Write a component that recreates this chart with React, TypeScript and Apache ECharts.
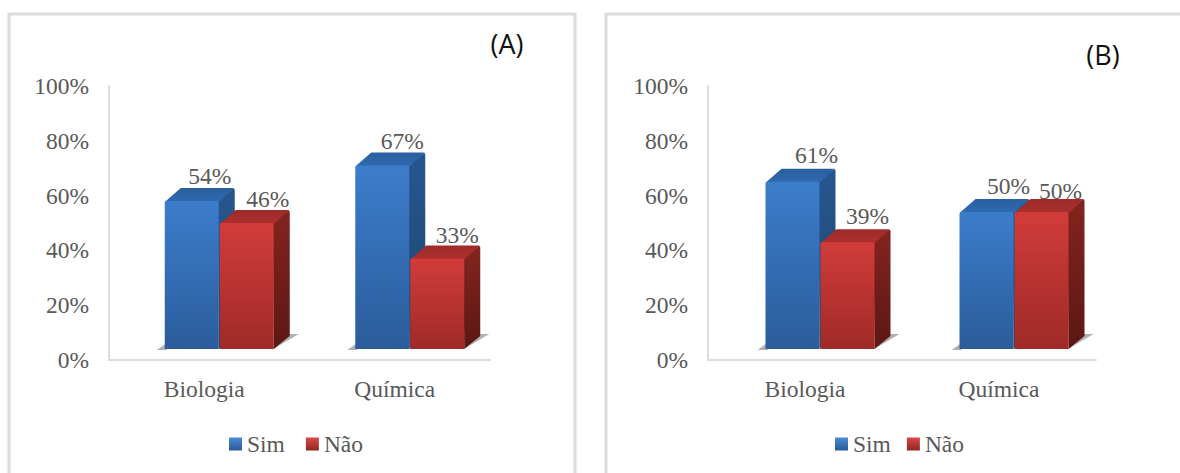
import React, { useEffect, useRef } from "react";
import * as echarts from "echarts";

const categories = ["Biologia", "Química"];
const yTicksMax = 100;
const seriesNames = ["Sim", "Não"];
const simA = [54, 67];
const naoA = [46, 33];
const simB = [61, 50];
const naoB = [39, 50];

const SERIF = "'Liberation Serif', serif";
const TXT = "#595959";
const FS = 23.5;
const BAR_W = 54;
const DX = 16;
const DY = 13;
const FRONT_SHIFT = -11; // bars stand in front of the axis plane

const grad = (a: string, b: string) =>
  new echarts.graphic.LinearGradient(0, 0, 0, 1, [
    { offset: 0, color: a },
    { offset: 1, color: b },
  ]);

const palette = [
  {
    front: () => grad("#3c7dcb", "#2b5c9b"),
    top: () => grad("#2a5f9f", "#2f6ab0"),
    side: () => grad("#27568f", "#1e4570"),
    legend: () => grad("#4a8ad8", "#2a5a98"),
  },
  {
    front: () => grad("#d13c3a", "#9f2a27"),
    top: () => grad("#9c2b29", "#ad302d"),
    side: () => grad("#84241f", "#5c1714"),
    legend: () => grad("#d94a48", "#8f2523"),
  },
];

// pixel nudges of the data labels relative to the bar's front-top corner
const labelNudges: Record<string, number[][]> = {
  A0: [[45, -25], [47, -24]],
  A1: [[48, -24], [47, -24]],
  B0: [[51, -27], [49, -26]],
  B1: [[47, -26], [46, -21]],
};

function barSeries(panel: string, axisIndex: number, sIdx: number, values: number[]) {
  const colors = palette[sIdx];
  const xOff = sIdx === 0 ? -39.5 : 15.5;
  return {
    type: "custom",
    name: seriesNames[sIdx],
    xAxisIndex: axisIndex,
    yAxisIndex: axisIndex,
    clip: false,
    itemStyle: { color: colors.legend() },
    encode: { x: 0, y: 1 },
    data: values.map((v, i) => [i, v]),
    renderItem: (params: any, api: any) => {
      const idx = api.value(0);
      const val = api.value(1);
      const top = api.coord([idx, val]);
      const base = api.coord([idx, 0]);
      const x0 = top[0] + xOff;
      const x1 = x0 + BAR_W;
      const yT = top[1] + FRONT_SHIFT;
      const yB = base[1] + FRONT_SHIFT;
      const nudge = labelNudges[panel + sIdx][idx];
      const shadow =
        sIdx === 0
          ? [[x0 - 8, yB + 1], [x0 + 2, yB - 6], [x0 + 2, yB + 1]]
          : [[x1 - 2, yB + 1], [x1 + 25, yB - 15], [x1 + DX - 1, yB - DY - 2]];
      return {
        type: "group",
        children: [
          { type: "polygon", shape: { points: shadow }, style: { fill: "#a8a8a8", opacity: 0.9 } },
          {
            type: "polygon",
            shape: { points: [[x1 - 1, yT], [x1 + DX - 1, yT - DY], [x1 + DX, yT - DY + 2], [x1 + DX, yB - DY], [x1, yB]] },
            style: { fill: colors.side() },
          },
          {
            type: "polygon",
            shape: { points: [[x0, yT + 1], [x0 + DX, yT - DY], [x1 + DX - 1, yT - DY], [x1, yT + 1]] },
            style: { fill: colors.top() },
          },
          {
            type: "rect",
            shape: { x: x0, y: yT, width: BAR_W, height: yB - yT, r: [2, 2, 0, 0] },
            style: { fill: colors.front() },
          },
          {
            type: "text",
            style: {
              x: x0 + nudge[0],
              y: yT + nudge[1],
              text: Math.round(val) + "%",
              font: `${FS}px ${SERIF}`,
              fill: TXT,
              align: "center",
              verticalAlign: "middle",
            },
          },
        ],
      };
    },
  };
}

const axisLine = { show: true, lineStyle: { color: "#dcdcdc", width: 2 } };

function xAxis(gridIndex: number) {
  return {
    type: "category",
    gridIndex,
    data: categories,
    axisLine,
    axisTick: { show: false },
    axisLabel: { color: TXT, fontFamily: SERIF, fontSize: FS, margin: 17 },
  };
}
function yAxis(gridIndex: number) {
  return {
    type: "value",
    gridIndex,
    min: 0,
    max: yTicksMax,
    interval: 20,
    axisLine,
    axisTick: { show: false },
    splitLine: { show: false },
    axisLabel: { color: TXT, fontFamily: SERIF, fontSize: FS, margin: 20, formatter: "{value}%" },
  };
}
function legend(left: number, gap: number) {
  return {
    left,
    top: 432,
    padding: 0,
    itemWidth: 13,
    itemHeight: 13,
    itemGap: gap,
    icon: "rect",
    data: seriesNames,
    selectedMode: false,
    textStyle: { color: TXT, fontFamily: SERIF, fontSize: FS },
  };
}

const border = { stroke: "#dcdcdc", lineWidth: 3, fill: "none" };
const noteFont = "27px 'Open Sans', sans-serif";

export default function App() {
  const ref = useRef<HTMLDivElement>(null);
  useEffect(() => {
    document.body.style.margin = "0";
    const chart = echarts.init(ref.current!, undefined, { renderer: "svg" });
    chart.setOption({
      animation: false,
      backgroundColor: "#ffffff",
      grid: [
        { left: 109, top: 86, width: 381, height: 274 },
        { left: 708, top: 86, width: 388, height: 274 },
      ],
      xAxis: [xAxis(0), xAxis(1)],
      yAxis: [yAxis(0), yAxis(1)],
      legend: [legend(229, 21), legend(835, 16)],
      series: [
        barSeries("A", 0, 0, simA),
        barSeries("A", 0, 1, naoA),
        barSeries("B", 1, 0, simB),
        barSeries("B", 1, 1, naoB),
      ],
      graphic: [
        { type: "polyline", shape: { points: [[9, 473], [9, 14], [575, 14], [575, 473]] }, style: border, silent: true },
        { type: "polyline", shape: { points: [[606, 473], [606, 14], [1180, 14]] }, style: border, silent: true },
        { type: "text", x: 507, y: 43, style: { text: "(A)", font: noteFont, fill: "#111", align: "center", verticalAlign: "middle" }, silent: true },
        { type: "text", x: 1103, y: 54, style: { text: "(B)", font: noteFont, fill: "#111", align: "center", verticalAlign: "middle" }, silent: true },
      ],
    });
    return () => chart.dispose();
  }, []);
  return <div ref={ref} style={{ position: "absolute", left: 0, top: 0, width: 1180, height: 473 }} />;
}
